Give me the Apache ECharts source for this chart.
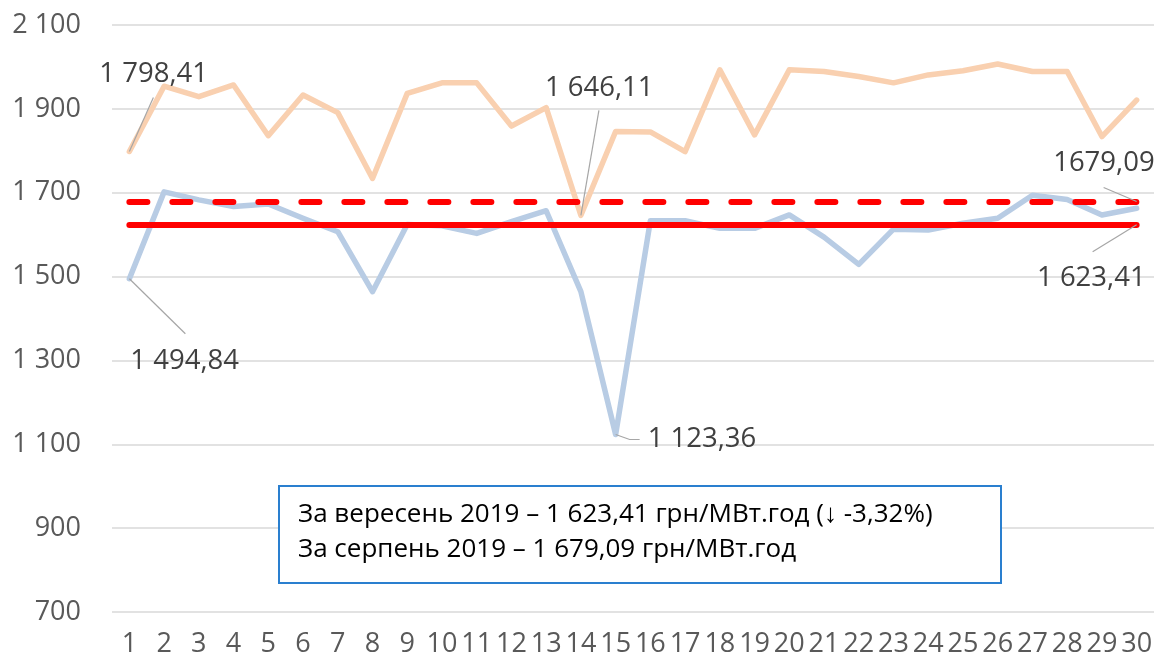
<!DOCTYPE html>
<html><head><meta charset="utf-8">
<script src="https://cdn.jsdelivr.net/npm/echarts@6/dist/echarts.min.js"></script>
<style>html,body{margin:0;padding:0;background:#fff}#c{width:1157px;height:665px}</style>
</head><body><div id="c"></div>
<script>
// ---- data ----
const days = ['1','2','3','4','5','6','7','8','9','10','11','12','13','14','15','16','17','18','19','20','21','22','23','24','25','26','27','28','29','30'];
const maxPrice = [1798.41,1954,1929,1957,1836,1933,1891,1734,1937,1962,1962,1859,1903,1646.11,1846,1845,1798,1993,1838,1993,1989,1977,1962,1981,1991,2007,1989,1989,1834,1921];
const minPrice = [1494.84,1702,1683,1667,1673,1639,1607,1464,1624,1621,1603,1631,1657,1464,1123.36,1633,1633,1615,1615,1647,1594,1529,1613,1611,1627,1639,1694,1684,1647,1663];
const avgSeptember = 1623.41;
const avgAugust = 1679.09;
const yMin = 700, yMax = 2100, yStep = 200;
const boxLines = ['За вересень 2019 – 1 623,41 грн/МВт.год (↓ -3,32%)', 'За серпень 2019 – 1 679,09 грн/МВт.год'];

const FONT = "'Open Sans', sans-serif";
const sep = s => s.replace(/\B(?=(\d{3})+(?!\d))/g, ' ');
const fmt = v => { const p = v.toFixed(2).split('.'); return sep(p[0]) + ',' + p[1]; };

const chart = echarts.init(document.getElementById('c'), null, {renderer: 'canvas'});
chart.setOption({
  animation: false,
  backgroundColor: '#fff',
  grid: {left: 112, right: 3, top: 25, bottom: 53},
  xAxis: {
    type: 'category', data: days, boundaryGap: true,
    axisLine: {show: false}, axisTick: {show: false},
    axisLabel: {interval: 0, color: '#595959', fontSize: 27, fontFamily: FONT, margin: 19}
  },
  yAxis: {
    type: 'value', min: yMin, max: yMax, interval: yStep,
    axisLine: {show: false}, axisTick: {show: false},
    splitLine: {lineStyle: {color: '#D9D9D9', width: 1.5}},
    axisLabel: {color: '#595959', fontSize: 27, fontFamily: FONT, margin: 31,
      formatter: v => sep(String(v))}
  },
  series: [
    {name: 'max', type: 'line', data: maxPrice, symbol: 'none',
      lineStyle: {color: '#F9D0B0', width: 5.5, join: 'round', cap: 'round'}, z: 2},
    {name: 'min', type: 'line', data: minPrice, symbol: 'none',
      lineStyle: {color: '#B8CCE4', width: 5.5, join: 'round', cap: 'round'}, z: 2},
    {name: 'avg', type: 'line', data: [], symbol: 'none', z: 5,
      markLine: {
        silent: true, symbol: 'none', label: {show: false}, animation: false,
        data: [
          [{coord: [days[0], avgSeptember], lineStyle: {type: 'solid', color: '#FF0000', width: 6, cap: 'round'}},
           {coord: [days[days.length - 1], avgSeptember]}],
          [{coord: [days[0], avgAugust], lineStyle: {type: [18, 25], color: '#FF0000', width: 6, cap: 'round'}},
           {coord: [days[days.length - 1], avgAugust]}]
        ]
      }}
  ]
});

// ---- annotations placed relative to data points ----
const px = (d, v) => chart.convertToPixel({gridIndex: 0}, [d, v]);
const last = days[days.length - 1];
const notes = [
  {p: px(days[0], maxPrice[0]), to: [[24, -54]], text: fmt(maxPrice[0]), tx: -30, ty: -77, align: 'left'},
  {p: px(days[13], maxPrice[13]), to: [[18, -105]], text: fmt(maxPrice[13]), tx: -36, ty: -127, align: 'left'},
  {p: px(days[0], minPrice[0]), to: [[56, 55]], text: fmt(minPrice[0]), tx: 1, ty: 82, align: 'left'},
  {p: px(days[14], minPrice[14]), to: [[14, 5], [24, 5]], text: fmt(minPrice[14]), tx: 32, ty: 5, align: 'left'},
  {p: px(last, avgAugust), to: [[-33, -14]], text: avgAugust.toFixed(2).replace('.', ','), tx: 18, ty: -38, align: 'right'},
  {p: px(last, avgSeptember), to: [[-44, 27]], text: fmt(avgSeptember), tx: 9, ty: 53, align: 'right'}
];
const graphics = [];
notes.forEach(n => {
  const pts = [[n.p[0], n.p[1]]].concat(n.to.map(o => [n.p[0] + o[0], n.p[1] + o[1]]));
  graphics.push({type: 'polyline', z: 10, shape: {points: pts}, style: {stroke: '#A6A6A6', lineWidth: 1.2, fill: null}});
  graphics.push({type: 'text', z: 10, x: n.p[0] + n.tx, y: n.p[1] + n.ty,
    style: {text: n.text, fill: '#404040', font: '27.5px ' + FONT, textAlign: n.align, textVerticalAlign: 'middle'}});
});
graphics.push({type: 'rect', z: 10, shape: {x: 279, y: 486, width: 722, height: 97},
  style: {fill: '#fff', stroke: '#2A7FCF', lineWidth: 2}});
boxLines.forEach((t, i) => graphics.push({type: 'text', z: 11, x: 298, y: 515 + i * 35,
  style: {text: t, fill: '#000', font: '26px ' + FONT, textVerticalAlign: 'middle'}}));
chart.setOption({graphic: graphics});
</script></body></html>
